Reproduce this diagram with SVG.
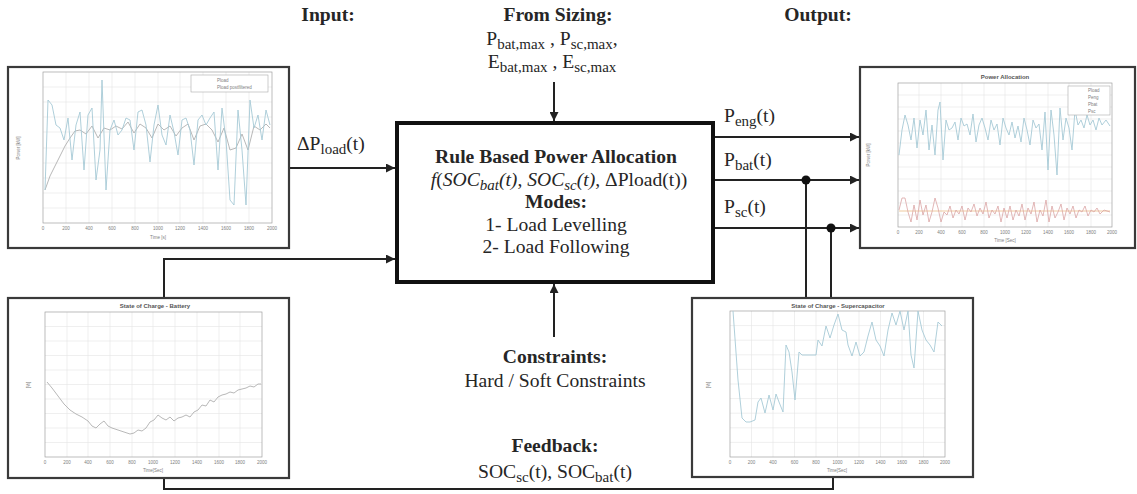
<svg xmlns="http://www.w3.org/2000/svg" width="1137" height="494" viewBox="0 0 1137 494">
<style>
text{font-family:"Liberation Serif","Times New Roman",serif;fill:#262626}
.h{font-size:19.6px;font-weight:bold}
.t{font-size:19.6px}
.s{font-size:15px}
.it{font-style:italic}
.conn{fill:none;stroke:#222;stroke-width:2}
.frame{fill:#fff;stroke:#3a3a3a;stroke-width:2.2}
.grid{fill:none;stroke:#e4e4e4;stroke-width:0.6}
.axes{fill:none;stroke:#a0a0a0;stroke-width:0.7}
.blue{fill:none;stroke:#a6c9d6;stroke-width:0.9}
.gray{fill:none;stroke:#b0b0b0;stroke-width:0.9}
.red{fill:none;stroke:#dba4a4;stroke-width:0.8}
.orange{fill:none;stroke:#eabb85;stroke-width:0.8}
.pt{font-family:"Liberation Sans",Arial,sans-serif;font-size:4.5px;fill:#808080}
.ptt{font-family:"Liberation Sans",Arial,sans-serif;font-size:6px;font-weight:bold;fill:#555}
</style>
<defs>
<marker id="arr" viewBox="0 0 10 10" refX="10" refY="5" markerWidth="9" markerHeight="9" markerUnits="userSpaceOnUse" orient="auto">
<path d="M0 0L10 5L0 10z" fill="#222"/>
</marker>
</defs>
<rect width="1137" height="494" fill="#fff"/>

<!-- headings -->
<g id="input-label"><text class="h" x="328" y="21" text-anchor="middle">Input:</text></g>
<g id="output-label"><text class="h" x="818" y="21" text-anchor="middle">Output:</text></g>
<g id="sizing">
<text class="h" x="558" y="21" text-anchor="middle">From Sizing:</text>
<text class="t" x="552" y="45" text-anchor="middle">P<tspan class="s" dy="4">bat,max</tspan><tspan dy="-4"> , P</tspan><tspan class="s" dy="4">sc,max</tspan><tspan dy="-4">,</tspan></text>
<text class="t" x="552" y="68" text-anchor="middle">E<tspan class="s" dy="4">bat,max</tspan><tspan dy="-4"> , E</tspan><tspan class="s" dy="4">sc,max</tspan></text>
</g>

<!-- connectors -->
<g id="connectors">
<path class="conn" d="M289 168H395" marker-end="url(#arr)"/>
<path class="conn" d="M554 82V121" marker-end="url(#arr)"/>
<path class="conn" d="M554 337V284" marker-end="url(#arr)"/>
<path class="conn" d="M164 298V259H395" marker-end="url(#arr)"/>
<path class="conn" d="M164 478V489H833V477"/>
<path class="conn" d="M714 137H859" marker-end="url(#arr)"/>
<path class="conn" d="M714 180H859" marker-end="url(#arr)"/>
<path class="conn" d="M714 228H859" marker-end="url(#arr)"/>
<path class="conn" d="M806 180V298"/>
<path class="conn" d="M831 228V298"/>
<circle cx="806" cy="180" r="4.5" fill="#111"/>
<circle cx="831" cy="228" r="4.5" fill="#111"/>
<text class="t" x="297" y="150">ΔP<tspan class="s" dy="4">load</tspan><tspan dy="-4">(t)</tspan></text>
<text class="t" x="724" y="122">P<tspan class="s" dy="4">eng</tspan><tspan dy="-4">(t)</tspan></text>
<text class="t" x="724" y="166">P<tspan class="s" dy="4">bat</tspan><tspan dy="-4">(t)</tspan></text>
<text class="t" x="724" y="213">P<tspan class="s" dy="4">sc</tspan><tspan dy="-4">(t)</tspan></text>
</g>

<!-- main block -->
<g id="rule-block">
<rect x="397" y="123" width="316" height="159" fill="#fff" stroke="#111" stroke-width="4"/>
<text class="h" x="556" y="163" text-anchor="middle">Rule Based Power Allocation</text>
<text class="t" x="559" y="186" text-anchor="middle"><tspan class="it">f</tspan>(<tspan class="it">SOC</tspan><tspan class="s it" dy="4">bat</tspan><tspan class="it" dy="-4">(t)</tspan>, <tspan class="it">SOC</tspan><tspan class="s it" dy="4">sc</tspan><tspan class="it" dy="-4">(t)</tspan>, ΔPload(t))</text>
<text class="h" x="556" y="208" text-anchor="middle">Modes:</text>
<text class="t" x="556" y="231" text-anchor="middle">1- Load  Levelling</text>
<text class="t" x="556" y="253" text-anchor="middle">2- Load Following</text>
</g>

<g id="constraints">
<text class="h" x="555" y="363" text-anchor="middle">Constraints:</text>
<text class="t" x="555" y="387" text-anchor="middle">Hard / Soft Constraints</text>
</g>
<g id="feedback">
<text class="h" x="555" y="452" text-anchor="middle">Feedback:</text>
<text class="t" x="555" y="478" text-anchor="middle">SOC<tspan class="s" dy="4">sc</tspan><tspan dy="-4">(t), SOC</tspan><tspan class="s" dy="4">bat</tspan><tspan dy="-4">(t)</tspan></text>
</g>

<!-- input plot -->
<g id="input-plot">
<rect class="frame" x="8" y="67" width="281" height="181"/>
<path class="grid" d="M66 72V223M89 72V223M112 72V223M135 72V223M158 72V223M180 72V223M203 72V223M226 72V223M249 72V223M43 87H272M43 102H272M43 117H272M43 132H272M43 148H272M43 163H272M43 178H272M43 193H272M43 208H272"/>
<rect class="axes" x="43" y="72" width="229" height="151"/>
<polyline class="gray" points="45,190 50,176 55,166 60,156 65,146 70,138 75,131 80,130 86,134 92,126 98,138 104,128 110,130 116,126 122,129 128,122 134,133 140,124 146,128 152,138 158,124 164,130 170,126 176,136 182,128 188,124 194,140 200,126 206,124 212,130 218,142 224,128 230,150 236,148 242,134 248,150 254,126 260,130 266,124 270,128"/>
<polyline class="blue" points="45,190 48,100 52,105 56,125 60,128 64,140 68,118 72,160 76,125 80,112 84,170 88,115 92,108 96,180 100,150 102,80 106,190 110,130 114,120 118,135 122,130 126,118 130,120 134,150 138,112 142,110 146,125 150,162 154,125 158,105 162,135 166,145 170,115 174,132 178,155 182,120 186,118 190,130 194,165 198,120 202,115 206,125 210,118 214,112 218,170 222,108 226,140 230,200 234,205 238,110 242,150 246,205 250,100 254,128 258,115 262,140 266,110 270,125"/>
<rect x="191" y="75" width="77" height="17" fill="#fff" stroke="#aaa" stroke-width="0.6"/>
<text class="pt" x="217" y="82">Pload</text>
<text class="pt" x="217" y="89">Pload postfiltered</text>
<text class="pt" x="43" y="230" text-anchor="middle">0</text><text class="pt" x="66" y="230" text-anchor="middle">200</text><text class="pt" x="89" y="230" text-anchor="middle">400</text><text class="pt" x="112" y="230" text-anchor="middle">600</text><text class="pt" x="135" y="230" text-anchor="middle">800</text><text class="pt" x="158" y="230" text-anchor="middle">1000</text><text class="pt" x="180" y="230" text-anchor="middle">1200</text><text class="pt" x="203" y="230" text-anchor="middle">1400</text><text class="pt" x="226" y="230" text-anchor="middle">1600</text><text class="pt" x="249" y="230" text-anchor="middle">1800</text><text class="pt" x="272" y="230" text-anchor="middle">2000</text>
<text class="pt" x="158" y="239" text-anchor="middle">Time [s]</text>
<text class="pt" x="20" y="148" text-anchor="middle" transform="rotate(-90 20 148)">Power [kW]</text>
</g>

<!-- output plot -->
<g id="output-plot">
<rect class="frame" x="860" y="67" width="275" height="181"/>
<text class="ptt" x="1005" y="79" text-anchor="middle">Power Allocation</text>
<path class="grid" d="M919 83V227M941 83V227M962 83V227M984 83V227M1005 83V227M1026 83V227M1048 83V227M1069 83V227M1091 83V227M898 95H1112M898 107H1112M898 119H1112M898 131H1112M898 143H1112M898 155H1112M898 167H1112M898 179H1112M898 191H1112M898 203H1112M898 215H1112"/>
<rect class="axes" x="898" y="83" width="214" height="144"/>
<polyline class="blue" points="899,155 902,130 905,115 908,125 911,140 914,118 917,148 920,120 923,135 926,110 929,150 932,125 935,155 938,110 940,102 943,160 946,120 949,130 952,128 955,122 958,140 961,118 964,126 967,124 970,135 973,114 976,142 979,125 982,118 985,128 988,140 991,120 994,130 997,124 1000,145 1003,118 1006,128 1009,135 1012,122 1015,138 1018,126 1021,142 1024,118 1027,130 1030,145 1033,120 1036,128 1039,124 1042,150 1045,112 1048,170 1051,110 1054,135 1057,175 1060,108 1063,140 1066,118 1069,128 1072,150 1075,110 1078,125 1081,120 1084,128 1087,115 1090,125 1093,120 1096,130 1099,118 1102,125 1106,120 1110,126"/>
<line class="orange" x1="899" y1="211" x2="1110" y2="211"/>
<polyline class="red" points="899,210 902,198 905,198 908,212 911,222 914,205 917,220 920,200 923,215 926,205 929,222 932,212 935,198 938,208 941,222 944,212 947,215 950,206 953,218 956,210 959,214 962,206 965,220 968,208 971,212 974,204 977,216 980,208 983,214 986,202 989,218 992,210 995,214 998,206 1001,222 1004,208 1007,218 1010,206 1013,220 1016,210 1019,216 1022,204 1025,220 1028,208 1031,214 1034,202 1037,222 1040,210 1043,216 1046,200 1049,222 1052,206 1055,218 1058,212 1061,204 1064,220 1067,208 1070,214 1073,206 1076,218 1079,210 1082,212 1085,206 1088,216 1091,210 1094,212 1097,208 1100,214 1104,210 1110,212"/>
<rect x="1068" y="86" width="42" height="29" fill="#fff" stroke="#aaa" stroke-width="0.6"/>
<text class="pt" x="1088" y="92">Pload</text>
<text class="pt" x="1088" y="99">Peng</text>
<text class="pt" x="1088" y="106">Pbat</text>
<text class="pt" x="1088" y="113">Psc</text>
<text class="pt" x="898" y="234" text-anchor="middle">0</text><text class="pt" x="919" y="234" text-anchor="middle">200</text><text class="pt" x="941" y="234" text-anchor="middle">400</text><text class="pt" x="962" y="234" text-anchor="middle">600</text><text class="pt" x="984" y="234" text-anchor="middle">800</text><text class="pt" x="1005" y="234" text-anchor="middle">1000</text><text class="pt" x="1026" y="234" text-anchor="middle">1200</text><text class="pt" x="1048" y="234" text-anchor="middle">1400</text><text class="pt" x="1069" y="234" text-anchor="middle">1600</text><text class="pt" x="1091" y="234" text-anchor="middle">1800</text><text class="pt" x="1112" y="234" text-anchor="middle">2000</text>
<text class="pt" x="1005" y="242" text-anchor="middle">Time [Sec]</text>
<text class="pt" x="870" y="155" text-anchor="middle" transform="rotate(-90 870 155)">Power [kW]</text>
</g>

<!-- battery SOC plot -->
<g id="battery-soc-plot">
<rect class="frame" x="8" y="298" width="281" height="180"/>
<text class="ptt" x="155" y="308" text-anchor="middle">State of Charge - Battery</text>
<path class="grid" d="M67 312V457M88 312V457M110 312V457M132 312V457M153 312V457M175 312V457M197 312V457M219 312V457M240 312V457M45 326.5H262M45 341H262M45 355.5H262M45 370H262M45 384.5H262M45 399H262M45 413.5H262M45 428H262M45 442.5H262"/>
<rect class="axes" x="45" y="312" width="217" height="145"/>
<polyline class="gray" points="47,382 52,388 58,396 64,404 70,410 76,414 82,417 88,421 92,426 96,428 100,424 104,421 108,426 112,428 118,430 124,432 130,434 134,433 138,430 142,431 146,428 150,422 154,420 158,415 162,418 166,420 170,417 174,421 178,418 182,417 186,415 190,417 194,412 198,410 202,405 206,406 210,400 214,402 218,397 222,395 226,394 230,392 234,393 238,390 242,389 246,388 250,386 254,387 258,384 261,384"/>
<text class="pt" x="45" y="464" text-anchor="middle">0</text><text class="pt" x="67" y="464" text-anchor="middle">200</text><text class="pt" x="88" y="464" text-anchor="middle">400</text><text class="pt" x="110" y="464" text-anchor="middle">600</text><text class="pt" x="132" y="464" text-anchor="middle">800</text><text class="pt" x="153" y="464" text-anchor="middle">1000</text><text class="pt" x="175" y="464" text-anchor="middle">1200</text><text class="pt" x="197" y="464" text-anchor="middle">1400</text><text class="pt" x="219" y="464" text-anchor="middle">1600</text><text class="pt" x="240" y="464" text-anchor="middle">1800</text><text class="pt" x="262" y="464" text-anchor="middle">2000</text>
<text class="pt" x="153" y="472" text-anchor="middle">Time[Sec]</text>
<text class="pt" x="30" y="385" text-anchor="middle" transform="rotate(-90 30 385)">[%]</text>
</g>

<!-- supercapacitor SOC plot -->
<g id="sc-soc-plot">
<rect class="frame" x="692" y="298" width="281" height="179"/>
<text class="ptt" x="838" y="308" text-anchor="middle">State of Charge - Supercapacitor</text>
<path class="grid" d="M751.5 311V457M773 311V457M794.5 311V457M816 311V457M837.5 311V457M859 311V457M880.5 311V457M902 311V457M923.5 311V457M730 325.6H945M730 340.2H945M730 354.8H945M730 369.4H945M730 384H945M730 398.6H945M730 413.2H945M730 427.8H945M730 442.4H945"/>
<rect class="axes" x="730" y="311" width="215" height="146"/>
<polyline class="blue" points="733,311 738,380 742,418 746,422 750,422 755,420 758,402 761,398 765,413 769,395 773,410 776,394 779,402 783,412 786,345 789,352 792,372 795,400 799,352 802,355 808,355 816,355 818,340 822,346 826,326 830,338 834,325 838,314 842,330 846,332 848,345 852,356 856,342 860,356 864,352 868,336 872,322 876,340 880,346 884,356 888,330 892,313 896,325 900,311 904,330 908,311 911,355 914,368 918,311 922,330 926,340 930,345 934,352 938,322 942,326"/>
<text class="pt" x="730" y="464" text-anchor="middle">0</text><text class="pt" x="751.5" y="464" text-anchor="middle">200</text><text class="pt" x="773" y="464" text-anchor="middle">400</text><text class="pt" x="794.5" y="464" text-anchor="middle">600</text><text class="pt" x="816" y="464" text-anchor="middle">800</text><text class="pt" x="837.5" y="464" text-anchor="middle">1000</text><text class="pt" x="859" y="464" text-anchor="middle">1200</text><text class="pt" x="880.5" y="464" text-anchor="middle">1400</text><text class="pt" x="902" y="464" text-anchor="middle">1600</text><text class="pt" x="923.5" y="464" text-anchor="middle">1800</text><text class="pt" x="945" y="464" text-anchor="middle">2000</text>
<text class="pt" x="837" y="472" text-anchor="middle">Time[Sec]</text>
<text class="pt" x="710" y="385" text-anchor="middle" transform="rotate(-90 710 385)">[%]</text>
</g>
</svg>
